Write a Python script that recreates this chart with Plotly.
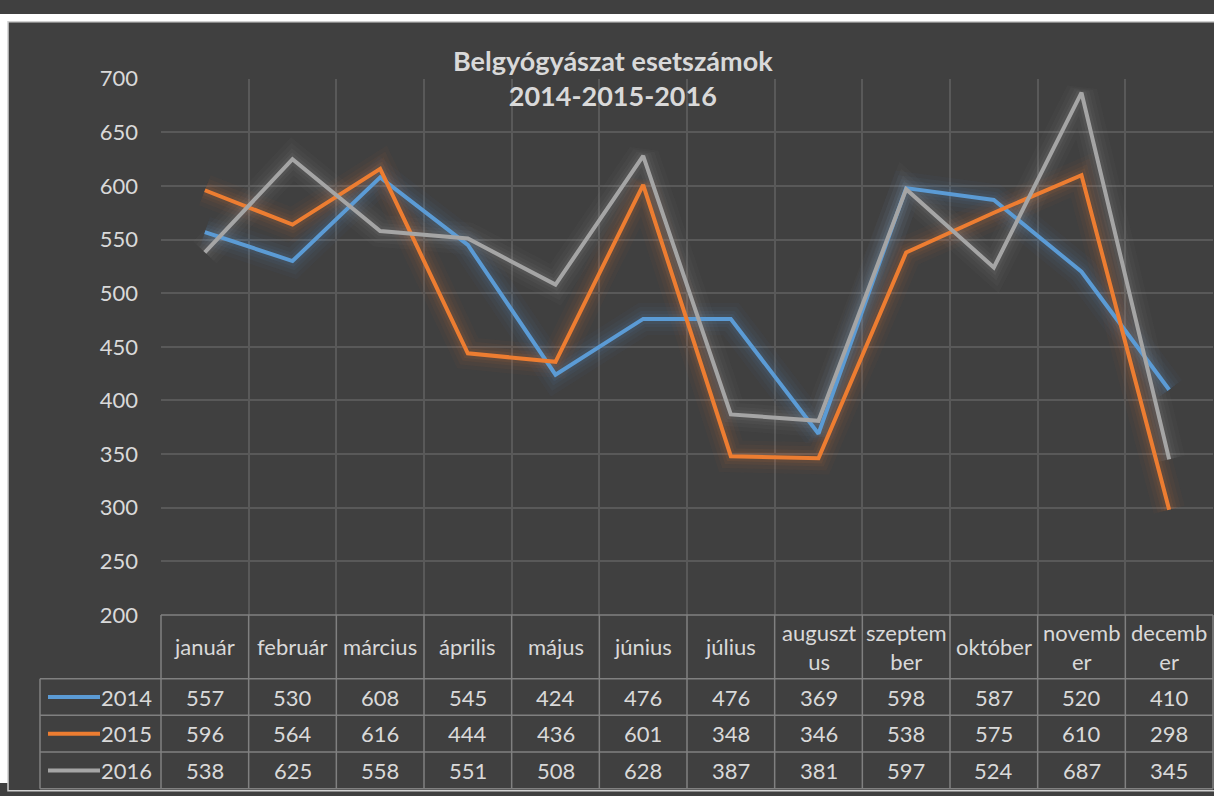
import plotly.graph_objects as go

months = ["január", "február", "március", "április", "május", "június", "július",
          "augusztus", "szeptember", "október", "november", "december"]
month_labels = ["január", "február", "március", "április", "május", "június", "július",
                "auguszt<br>us", "szeptem<br>ber", "október", "novemb<br>er", "decemb<br>er"]
years = ["2014", "2015", "2016"]
v2014 = [557, 530, 608, 545, 424, 476, 476, 369, 598, 587, 520, 410]
v2015 = [596, 564, 616, 444, 436, 601, 348, 346, 538, 575, 610, 298]
v2016 = [538, 625, 558, 551, 508, 628, 387, 381, 597, 524, 687, 345]
series = [v2014, v2015, v2016]
colors = ["#5b9bd5", "#ed7d31", "#a5a5a5"]
glow_rgb = ["91,155,213", "237,125,49", "165,165,165"]
yticks = [200, 250, 300, 350, 400, 450, 500, 550, 600, 650, 700]

W, H = 1214, 796
def px(x): return x / W
def py(y): return 1 - y / H

X0, X1 = 161, 1213
YT, YB = 67, 622
colw = (X1 - X0) / 12
FONT = "Lato, 'Open Sans', sans-serif"
TXT = "#d9d9d9"
FS = 22

fig = go.Figure()
xs = list(range(12))
for i, s in enumerate(series):
    for w, a in [(32, 0.035), (24, 0.045), (16, 0.06), (10, 0.08)]:
        fig.add_trace(go.Scatter(x=xs, y=s, mode="lines",
                                 line=dict(color=f"rgba({glow_rgb[i]},{a})", width=w),
                                 hoverinfo="skip", showlegend=False))
for i, s in enumerate(series):
    fig.add_trace(go.Scatter(x=xs, y=s, mode="lines", line=dict(color=colors[i], width=4),
                             name=years[i], showlegend=False))

shapes = []
shapes.append(dict(type="rect", xref="paper", yref="paper", x0=0, x1=1, y0=0, y1=1,
                   fillcolor="#ffffff", line=dict(width=0), layer="below"))
shapes.append(dict(type="rect", xref="paper", yref="paper", x0=px(8), x1=1.01, y0=-0.01, y1=py(8),
                   fillcolor="#404040", line=dict(color="#d0d0d0", width=1.5), layer="below"))

LC = "#808080"
row_y = [622, 688, 726, 764, 802]
shapes.append(dict(type="line", xref="paper", yref="paper", x0=px(X0), x1=px(X1), y0=py(622), y1=py(622),
                   line=dict(color=LC, width=1.5)))
for yy in row_y[1:]:
    shapes.append(dict(type="line", xref="paper", yref="paper", x0=px(40), x1=px(X1), y0=py(yy), y1=py(yy),
                       line=dict(color=LC, width=1.5)))
for k in range(13):
    xx = X0 + k * colw
    shapes.append(dict(type="line", xref="paper", yref="paper", x0=px(xx), x1=px(xx), y0=py(622), y1=py(802),
                       line=dict(color=LC, width=1.5)))
shapes.append(dict(type="line", xref="paper", yref="paper", x0=px(40), x1=px(40), y0=py(688), y1=py(802),
                   line=dict(color=LC, width=1.5)))

annotations = []
annotations.append(dict(xref="paper", yref="paper", x=px(613), y=py(66), xanchor="center", yanchor="middle",
                        text="<b>Belgyógyászat esetszámok<br>2014-2015-2016</b>",
                        showarrow=False, font=dict(family=FONT, size=27, color=TXT), align="center"))
for k, lab in enumerate(month_labels):
    cx = X0 + (k + 0.5) * colw
    annotations.append(dict(xref="paper", yref="paper", x=px(cx), y=py(655), xanchor="center", yanchor="middle",
                            text=lab, showarrow=False,
                            font=dict(family=FONT, size=FS, color=TXT), align="center"))
rc = [707, 745, 783]
for r, s in enumerate(series):
    for k, v in enumerate(s):
        cx = X0 + (k + 0.5) * colw
        annotations.append(dict(xref="paper", yref="paper", x=px(cx), y=py(rc[r]), xanchor="center",
                                yanchor="middle", text=str(v), showarrow=False,
                                font=dict(family=FONT, size=FS, color=TXT)))
    shapes.append(dict(type="line", xref="paper", yref="paper", x0=px(48), x1=px(100), y0=py(rc[r]), y1=py(rc[r]),
                       line=dict(color=colors[r], width=4)))
    annotations.append(dict(xref="paper", yref="paper", x=px(154), y=py(rc[r]), xanchor="right", yanchor="middle",
                            text=years[r], showarrow=False, font=dict(family=FONT, size=FS, color=TXT)))

fig.update_layout(
    autosize=True, margin=dict(l=0, r=0, t=0, b=0),
    paper_bgcolor="#404040", plot_bgcolor="rgba(0,0,0,0)",
    shapes=shapes, annotations=annotations, showlegend=False,
    xaxis=dict(domain=[px(X0), px(X1)], range=[-0.5, 11.5], tickvals=[k - 0.5 for k in range(13)],
               showticklabels=False, showgrid=True, gridcolor="#595959", gridwidth=1.5, zeroline=False,
               showline=False, fixedrange=True),
    yaxis=dict(domain=[py(YB), py(YT)], range=[200, 700], tickvals=yticks, showgrid=True,
               gridcolor="#595959", gridwidth=1.5, zeroline=False, showline=False,
               tickfont=dict(family=FONT, size=FS, color=TXT), ticks="", ticklabelstandoff=22),
)
post = ("document.documentElement.style.overflow='hidden';"
        "document.body.style.margin='0';document.body.style.overflow='hidden';"
        "var gd=document.getElementById('{plot_id}');gd.style.position='fixed';gd.style.top='0';gd.style.left='0';"
        "gd.style.width='100vw';gd.style.height='100vh';Plotly.Plots.resize(gd);")
fig.write_html("out.html", config={"displayModeBar": False, "responsive": True},
               default_width="100vw", default_height="100vh", post_script=post)
